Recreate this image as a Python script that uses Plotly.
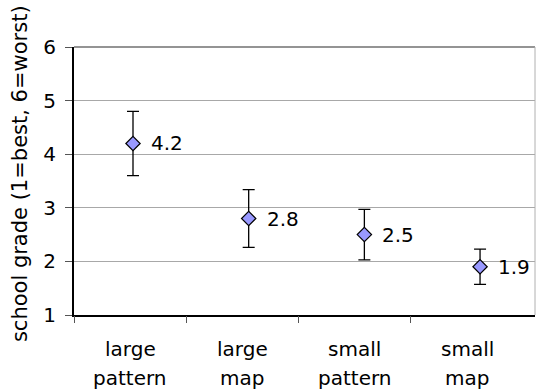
import plotly.graph_objects as go

# Mean school grades per condition with error bar half-widths
conditions = ["large pattern", "large map", "small pattern", "small map"]
line1 = ["large", "large", "small", "small"]
line2 = ["pattern", "map", "pattern", "map"]
grades = [4.2, 2.8, 2.5, 1.9]
errors = [0.6, 0.54, 0.47, 0.33]
y_ticks = [1, 2, 3, 4, 5, 6]

FONT = "DejaVu Sans"

fig = go.Figure()

fig.add_trace(go.Scatter(
    x=conditions,
    y=grades,
    mode="markers",
    marker=dict(symbol="diamond", size=11, color="#9999ff",
                line=dict(color="black", width=1.2)),
    error_y=dict(type="data", array=errors, visible=True,
                 color="black", thickness=1.3, width=6),
    cliponaxis=False,
    showlegend=False,
))

# invisible helper trace so the tick-mark axis is drawn
fig.add_trace(go.Scatter(x=[0], y=[1], xaxis="x2", mode="markers",
                         marker=dict(opacity=0), showlegend=False,
                         hoverinfo="skip"))

n = len(conditions)
annotations = []
# value labels to the right of each marker
for c, g in zip(conditions, grades):
    annotations.append(dict(x=c, xref="x", y=g, yref="y", text=f"{g:.1f}",
                            showarrow=False, xanchor="left", yanchor="middle",
                            xshift=16,
                            font=dict(family=FONT, size=20, color="black")))
# category label lines under the axis
for i in range(n):
    annotations.append(dict(x=i + 0.5, xref="x2", y=-0.125, yref="paper",
                            text=line1[i], showarrow=False, xanchor="center",
                            yanchor="middle",
                            font=dict(family=FONT, size=20, color="black")))
    annotations.append(dict(x=i + 0.5, xref="x2", y=-0.235, yref="paper",
                            text=line2[i], showarrow=False, xanchor="center",
                            yanchor="middle",
                            font=dict(family=FONT, size=20, color="black")))
annotations.append(dict(x=-0.117, xref="paper", y=0.526, yref="paper",
                        text="school grade (1=best, 6=worst)", textangle=-90,
                        showarrow=False, xanchor="center", yanchor="middle",
                        font=dict(family=FONT, size=21, color="black")))

fig.update_layout(
    width=536, height=392,
    margin=dict(l=74, r=1, t=47, b=77),
    paper_bgcolor="white", plot_bgcolor="white",
    font=dict(family=FONT, color="black"),
    xaxis=dict(type="category", range=[-0.51, 3.475], showticklabels=False,
               ticks="", showgrid=False, zeroline=False,
               showline=True, linecolor="black", linewidth=2),
    xaxis2=dict(overlaying="x", range=[0, 4.105], tickvals=list(range(n)),
                ticks="outside", ticklen=7, tickcolor="#555", tickwidth=1,
                showticklabels=False, showgrid=False, zeroline=False,
                showline=False, side="bottom"),
    yaxis=dict(range=[1, 6], tickvals=y_ticks, ticks="outside", ticklen=7,
               tickcolor="#555", tickwidth=1, ticklabelstandoff=5,
               tickfont=dict(family=FONT, size=20, color="black"),
               showgrid=True, gridcolor="#a8a8a8", gridwidth=1,
               zeroline=False, showline=True, linecolor="black", linewidth=2),
    annotations=annotations,
    shapes=[
        dict(type="line", xref="paper", yref="paper", x0=0, x1=1, y0=1, y1=1,
             line=dict(color="#707070", width=1.7)),
        dict(type="line", xref="paper", yref="paper", x0=1, x1=1, y0=0, y1=1,
             line=dict(color="#b0b0b0", width=1)),
    ],
)

fig.write_html("out.html")
